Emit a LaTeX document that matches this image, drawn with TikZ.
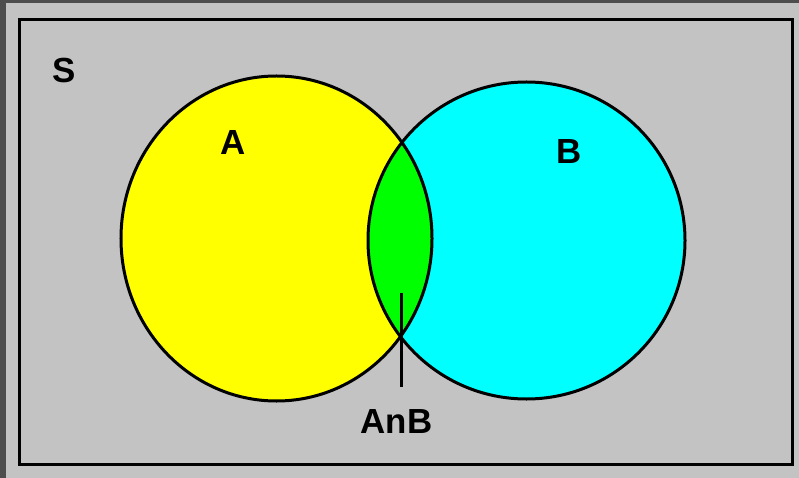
\documentclass[tikz,border=0pt]{standalone}
\usepackage{fontspec}
\setmainfont{Liberation Sans}
\usetikzlibrary{shapes.geometric}
\definecolor{panel}{RGB}{195,195,195}
\definecolor{edge}{RGB}{77,77,77}
\definecolor{setA}{RGB}{255,255,0}
\definecolor{setB}{RGB}{0,255,255}
\definecolor{setAB}{RGB}{0,255,0}
\tikzset{
  setname/.style={font=\bfseries\fontsize{35}{40}\selectfont, inner sep=0pt, anchor=base},
  setline/.style={draw=black, line width=3bp},
}
\begin{document}
\begin{tikzpicture}[x=1bp, y=-1bp]
  \useasboundingbox (0,0) rectangle (799,478);
  % window background with its shaded top and left edges
  \fill[panel] (0,0) rectangle (799,478);
  \fill[edge] (0,0) rectangle (799,3);
  \fill[edge] (0,0) rectangle (6,478);
  % sample space frame
  \draw[line width=3bp] (19.5,19.5) rectangle (792.5,464);
  % the two sets
  \fill[setA] (276.5,238.5) ellipse [x radius=155.5bp, y radius=162.5bp];
  \fill[setB] (526.5,240.5) ellipse [x radius=158.5bp, y radius=158.5bp];
  % their intersection
  \begin{scope}
    \clip (276.5,238.5) ellipse [x radius=155.5bp, y radius=162.5bp];
    \fill[setAB] (526.5,240.5) ellipse [x radius=158.5bp, y radius=158.5bp];
  \end{scope}
  \node[ellipse, setline, inner sep=0pt, minimum width=311bp, minimum height=325bp] (A) at (276.5,238.5) {};
  \node[ellipse, setline, inner sep=0pt, minimum width=317bp, minimum height=317bp] (B) at (526.5,240.5) {};
  % labels
  \node[setname] (S) at (64.5,83) {S};
  \node[setname] (Alab) at (233,155) {A};
  \node[setname] (Blab) at (569,164) {B};
  \node[setname] (AnB) at (396.5,433) {AnB};
  % pointer from the intersection to its label
  \coordinate (lens) at (401.5,293);
  \draw[line width=3bp, shorten >=22bp] (lens) -- (lens |- AnB.north);
\end{tikzpicture}
\end{document}
